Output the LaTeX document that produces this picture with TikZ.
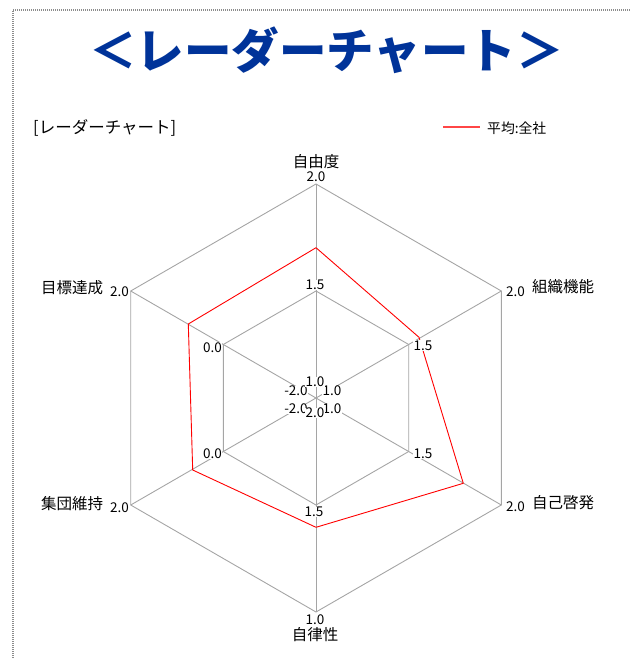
\documentclass[tikz,border=0pt]{standalone}
\usepackage{fontspec}
\setmainfont{Noto Sans CJK JP}
\definecolor{titleblue}{RGB}{0,51,153}
\definecolor{gridgray}{RGB}{165,165,165}
\definecolor{bordergray}{RGB}{140,140,140}
\definecolor{legendred}{RGB}{255,70,70}
\begin{document}
\begin{tikzpicture}[x=1pt,y=-1pt,
  gridline/.style={draw=gridgray, line width=0.9pt},
  series/.style={draw=red, line width=0.9pt, line join=round},
  num/.style={font=\fontsize{13.5}{13.5}\selectfont, inner sep=0.4pt, fill=white},
  axlabel/.style={font=\fontsize{15.5}{15.5}\selectfont, inner sep=0pt},
  smalltext/.style={font=\fontsize{16.5}{16.5}\selectfont, inner sep=0pt},
  frameline/.style={draw=bordergray, line width=1.2pt, dash pattern=on 1pt off 1pt},
]
\useasboundingbox (0,0) rectangle (631,658);
% frame (partial, dotted)
\coordinate (fr1) at (13,658);
\coordinate (fr2) at (13,10);
\coordinate (fr3) at (631,10);
\draw[frameline] (fr1) -- (fr2) -- (fr3);
% title
\node[font=\fontsize{47.5}{47.5}\selectfont\bfseries, text=titleblue, inner sep=0pt] (title) at (326.5,50) {＜レーダーチャート＞};
\node[smalltext, anchor=west] (subtitle) at (33,128) {[レーダーチャート]};
% legend
\coordinate (lg1) at (443,127.3);
\coordinate (lg2) at (480,127.3);
\draw[draw=legendred, line width=1.6pt] (lg1) -- (lg2);
\node[font=\fontsize{13.8}{13.8}\selectfont, inner sep=0pt, anchor=west] (legend) at (487,128) {平均:全社};
% geometry
\coordinate (C) at (316,398);
\coordinate (O1) at (316,184);
\coordinate (O2) at (501.3,291);
\coordinate (O3) at (501.3,505);
\coordinate (O4) at (316,612);
\coordinate (O5) at (130.7,505);
\coordinate (O6) at (130.7,291);
\coordinate (I1) at (316,291);
\coordinate (I2) at (408.7,344.5);
\coordinate (I3) at (408.7,451.5);
\coordinate (I4) at (316,505);
\coordinate (I5) at (223.3,451.5);
\coordinate (I6) at (223.3,344.5);
\draw[gridline] (O1) -- (O2) -- (O3) -- (O4) -- (O5) -- (O6) -- cycle;
\draw[gridline] (I1) -- (I2) -- (I3) -- (I4) -- (I5) -- (I6) -- cycle;
\foreach \k in {1,...,6} {\draw[gridline] (C) -- (O\k);}
% series
\coordinate (R1) at (316,247.7);
\coordinate (R2) at (419,337.3);
\coordinate (R3) at (463.3,483.3);
\coordinate (R4) at (316,527.3);
\coordinate (R5) at (192.7,470);
\coordinate (R6) at (188.3,324);
\draw[series] (R1) -- (R2) -- (R3) -- (R4) -- (R5) -- (R6) -- cycle;
% axis labels
\node[axlabel] (ax1) at (316,161.5) {自由度};
\node[axlabel] (ax2) at (563,287) {組織機能};
\node[axlabel] (ax3) at (563,503) {自己啓発};
\node[axlabel] (ax4) at (315,635) {自律性};
\node[axlabel] (ax5) at (72,503.3) {集団維持};
\node[axlabel] (ax6) at (72,287.3) {目標達成};
% scale numbers
\node[num] (n1o) at (316,177) {2.0};
\node[num] (n2o) at (515.5,292) {2.0};
\node[num] (n3o) at (515.5,507) {2.0};
\node[num] (n4o) at (315,620) {1.0};
\node[num] (n5o) at (119.5,507.5) {2.0};
\node[num] (n6o) at (119.5,292) {2.0};
\node[num] (n1i) at (315,285) {1.5};
\node[num] (n2i) at (423,345.5) {1.5};
\node[num] (n3i) at (423,453.5) {1.5};
\node[num] (n4i) at (314,512) {1.5};
\node[num] (n5i) at (212.5,453.5) {0.0};
\node[num] (n6i) at (212.5,347.5) {0.0};
\node[num] (n2c) at (332,391) {1.0};
\node[num] (n3c) at (332,409) {1.0};
\node[num] (n5c) at (296,409) {-2.0};
\node[num] (n6c) at (296,391) {-2.0};
\node[num] (n1c) at (315,382) {1.0};
\node[num] (n4c) at (315,413) {2.0};
\end{tikzpicture}
\end{document}
